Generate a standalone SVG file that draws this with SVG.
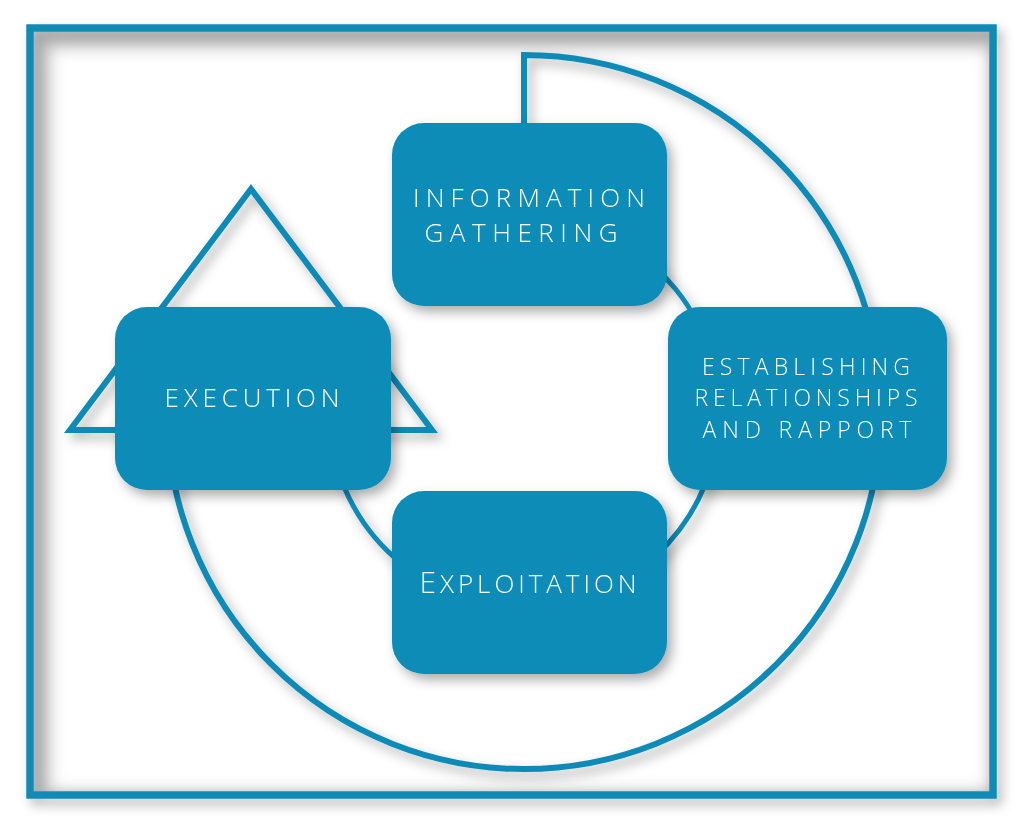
<svg xmlns="http://www.w3.org/2000/svg" width="1024" height="826" viewBox="0 0 1024 826">
<style>
.ln{fill:none;stroke:#0f8bb6;stroke-linejoin:miter}
.box{fill:#0a8cb8}
.lbl{font-family:"Open Sans","Liberation Sans",sans-serif;font-weight:300;font-size:26px;fill:#ffffff;text-anchor:middle}
.sm{font-size:23px}
</style>
<defs>
<filter id="sh" x="-20%" y="-20%" width="140%" height="140%">
<feDropShadow dx="5" dy="6" stdDeviation="6" flood-color="#000" flood-opacity="0.32"/>
</filter>
<filter id="blur" x="-10%" y="-10%" width="120%" height="120%">
<feGaussianBlur stdDeviation="8"/>
</filter>
<clipPath id="inner"><rect x="33" y="31" width="957" height="761"/></clipPath>
</defs>
<rect width="1024" height="826" fill="#ffffff"/>
<g id="frame">
<rect x="30" y="28" width="963" height="767" class="ln" stroke-width="7" filter="url(#sh)"/>
<g clip-path="url(#inner)">
<rect x="38" y="36" width="963" height="767" fill="none" stroke="#8a8a8a" stroke-width="22" filter="url(#blur)" opacity="0.6"/>
</g>
<rect x="30" y="28" width="963" height="767" class="ln" stroke-width="7"/>
</g>
<g id="connectors" filter="url(#sh)">
<path id="outer-arc" class="ln" stroke-width="6" d="M524 123 V55 A357 357 0 1 1 167 412"/>
<path id="inner-arc" class="ln" stroke-width="5" d="M621.5 243 A195 195 0 1 1 341 345"/>
<polygon id="triangle" class="ln" stroke-width="6" points="251,189 432,430 70,430"/>
</g>
<g id="node-information" filter="url(#sh)">
<rect class="box" x="392" y="123" width="275" height="183" rx="32"/>
<text class="lbl" x="529" y="207" textLength="232" lengthAdjust="spacing">INFORMATION</text>
<text class="lbl" x="521" y="242" textLength="193" lengthAdjust="spacing">GATHERING</text>
</g>
<g id="node-execution" filter="url(#sh)">
<rect class="box" x="115" y="307" width="276" height="183" rx="32"/>
<text class="lbl" x="252" y="407" textLength="175" lengthAdjust="spacing">EXECUTION</text>
</g>
<g id="node-establishing" filter="url(#sh)">
<rect class="box" x="668" y="307" width="279" height="183" rx="32"/>
<text class="lbl sm" x="806" y="375" textLength="208" lengthAdjust="spacing">ESTABLISHING</text>
<text class="lbl sm" x="806" y="406" textLength="223" lengthAdjust="spacing">RELATIONSHIPS</text>
<text class="lbl sm" x="807" y="438" textLength="209" lengthAdjust="spacing">AND RAPPORT</text>
</g>
<g id="node-exploitation" filter="url(#sh)">
<rect class="box" x="392" y="491" width="275" height="183" rx="32"/>
<text class="lbl" x="528" y="593" textLength="217" lengthAdjust="spacing"><tspan font-size="30">E</tspan>XPLOITATION</text>
</g>
</svg>
